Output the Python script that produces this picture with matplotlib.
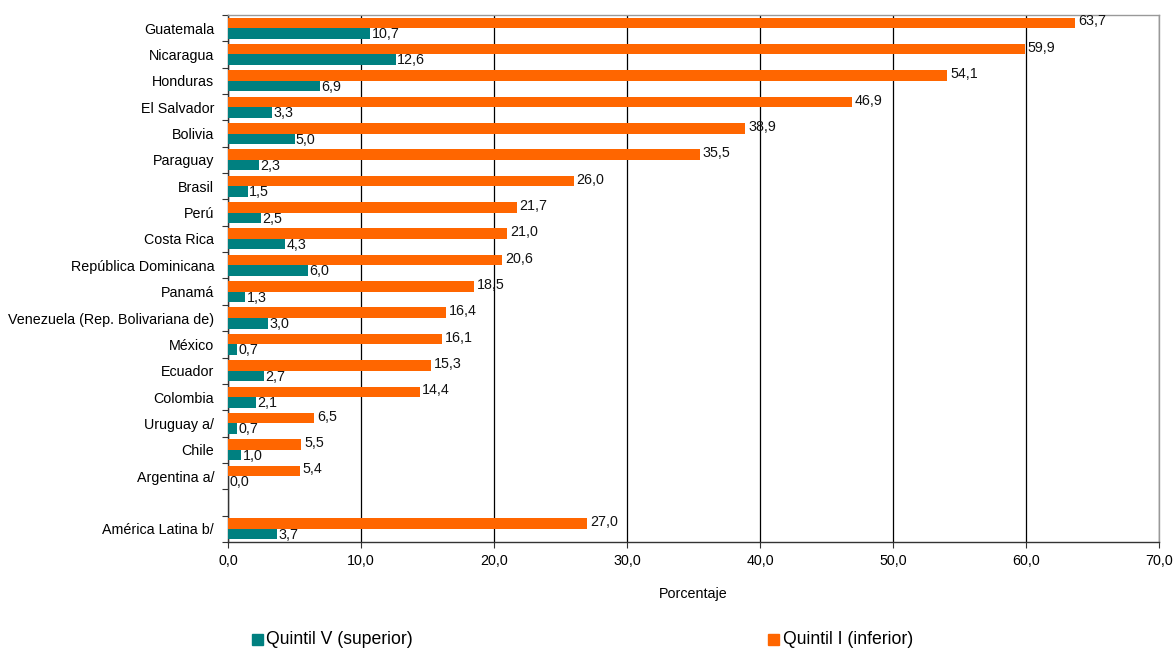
import matplotlib
matplotlib.use("Agg")
import matplotlib.pyplot as plt
import numpy as np
from matplotlib.patches import Rectangle

plt.rcParams["font.family"] = ["Liberation Sans", "DejaVu Sans"]

paises = [
    "Guatemala", "Nicaragua", "Honduras", "El Salvador", "Bolivia", "Paraguay",
    "Brasil", "Perú", "Costa Rica", "República Dominicana", "Panamá",
    "Venezuela (Rep. Bolivariana de)", "México", "Ecuador", "Colombia",
    "Uruguay a/", "Chile", "Argentina a/", "América Latina b/",
]
quintil_i = [63.7, 59.9, 54.1, 46.9, 38.9, 35.5, 26.0, 21.7, 21.0, 20.6, 18.5,
             16.4, 16.1, 15.3, 14.4, 6.5, 5.5, 5.4, 27.0]
quintil_v = [10.7, 12.6, 6.9, 3.3, 5.0, 2.3, 1.5, 2.5, 4.3, 6.0, 1.3,
             3.0, 0.7, 2.7, 2.1, 0.7, 1.0, 0.0, 3.7]

NARANJA = "#ff6600"
VERDE = "#008080"
FS = 10.3

# fila vacía antes del agregado regional
pos = np.array(list(range(len(paises) - 1)) + [len(paises)], dtype=float)
n_filas = len(paises) + 1
h = 0.40

fig = plt.figure(figsize=(11.76, 6.48), dpi=100)
ax = fig.add_axes([0.1939, 0.1636, 0.7916, 0.8133])

ax.barh(pos - h / 2, quintil_i, height=h, color=NARANJA, zorder=3)
ax.barh(pos + h / 2, quintil_v, height=h, color=VERDE, zorder=3)

def fmt(v):
    return f"{v:.1f}".replace(".", ",")

for y, a, b in zip(pos, quintil_i, quintil_v):
    ax.annotate(fmt(a), (a, y - h / 2), xytext=(2, 1), textcoords="offset points",
                ha="left", va="center", fontsize=FS, color="#111111", zorder=4)
    ax.annotate(fmt(b), (b, y + h / 2), xytext=(1, -0.5), textcoords="offset points",
                ha="left", va="center", fontsize=FS, color="#111111", zorder=4)

ax.set_xlim(0, 70)
ax.set_ylim(n_filas - 0.5, -0.5)

ax.set_xticks(np.arange(0, 71, 10))
ax.set_xticklabels([fmt(v) for v in np.arange(0, 71, 10)], fontsize=FS)
ax.xaxis.grid(True, color="black", linewidth=0.9, zorder=1)
ax.tick_params(axis="x", length=4, width=0.8, color="#333333", pad=5)

# marcas en los límites de cada fila, etiquetas al centro
ax.set_yticks(np.arange(n_filas + 1) - 0.5)
ax.set_yticklabels([])
ax.set_yticks(pos, minor=True)
ax.set_yticklabels(paises, minor=True, fontsize=FS)
ax.tick_params(axis="y", which="major", length=4, width=0.8, color="#333333")
ax.tick_params(axis="y", which="minor", length=0, pad=10)

for lado in ("top", "right"):
    ax.spines[lado].set_color("#999999")
    ax.spines[lado].set_linewidth(1.0)
for lado in ("left", "bottom"):
    ax.spines[lado].set_color("#333333")
    ax.spines[lado].set_linewidth(1.0)

ax.set_xlabel("Porcentaje", fontsize=FS, labelpad=13)

# leyenda inferior
fig.patches.append(Rectangle((252 / 1176, 1 - 645 / 648), 11 / 1176, 11 / 648,
                             transform=fig.transFigure, color=VERDE))
fig.text(266 / 1176, 1 - 639 / 648, "Quintil V (superior)", fontsize=12.7, va="center")
fig.patches.append(Rectangle((768 / 1176, 1 - 645 / 648), 11 / 1176, 11 / 648,
                             transform=fig.transFigure, color=NARANJA))
fig.text(783 / 1176, 1 - 639 / 648, "Quintil I (inferior)", fontsize=12.7, va="center")

fig.savefig("out.png", dpi=100, facecolor="white")
